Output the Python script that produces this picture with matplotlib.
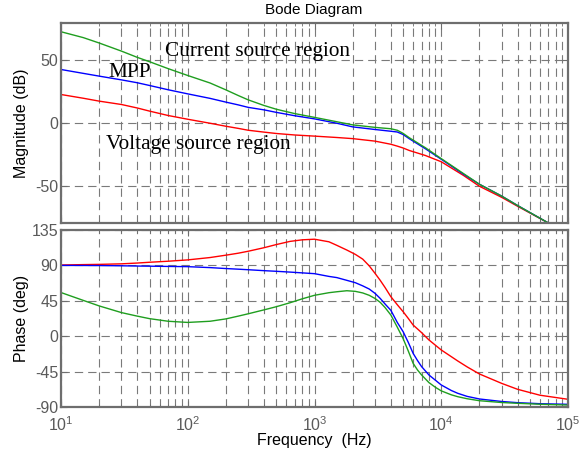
import matplotlib
matplotlib.use("Agg")
import matplotlib.pyplot as plt
from matplotlib.ticker import LogLocator, FixedLocator, NullFormatter

# ---------------- data ----------------
freq_mag = [10, 15, 20, 30, 40, 50, 70, 100, 150, 200, 250, 300, 400, 500, 700, 1000,
            1500, 2000, 3000, 4000, 4500, 5000, 5600, 7500, 10000, 15000, 20000, 30000,
            40000, 70000, 100000]
mag_current = [73, 68.3, 64, 57.5, 52.5, 49, 43.5, 38, 32, 26.5, 22, 18.5, 14, 11, 7.5, 4.5,
               1, -1.5, -3.5, -4.6, -5.8, -8.3, -11.8, -19.8, -28.5, -40.5, -49, -58.5,
               -66, -80, -90]
mag_mpp = [42.8, 39.7, 37.5, 34.5, 32.2, 30, 26.6, 23.3, 19.7, 16.7, 14.5, 12.5, 10.5, 8.5,
           5.8, 3.3, -0.2, -3.1, -5.2, -6.6, -7.2, -9.2, -12.6, -20.6, -29, -41, -49, -58.5,
           -66, -80, -90]
mag_voltage = [22.8, 19.8, 17.5, 14.8, 12, 9.5, 6, 3, -0.2, -2.6, -4.3, -5.8, -7.3, -8.4,
               -9.6, -10.5, -11.6, -12.5, -14.5, -17, -18.5, -20, -22, -26, -31, -42, -50.6,
               -59.5, -66.6, -80, -90]

freq_ph = [10, 15, 20, 30, 40, 50, 70, 100, 150, 200, 250, 300, 400, 500, 640, 800, 1000,
           1300, 1500, 1800, 2100, 2400, 2700, 3000, 3300, 3600, 4000, 4500, 5000, 5500,
           6000, 6500, 7000, 8000, 9000, 10000, 12000, 13500, 16000, 20000, 30000, 40000,
           60000, 100000]
ph_current = [55.5, 45.5, 38.5, 30, 25.5, 22.3, 19, 17.5, 19, 22, 25.5, 28.5, 33.5, 37.5,
              42.5, 47.5, 52, 55.3, 56.5, 57.8, 57, 55, 52, 48, 43, 36.5, 27, 11.5, -3, -19,
              -34.5, -43, -49.3, -59, -65, -69.5, -74.5, -76.9, -79.5, -82, -84.3, -85.3,
              -86.5, -87.5]
ph_mpp = [90, 89.9, 89.8, 89.5, 89.2, 89, 88.7, 88.4, 87.2, 86, 85.2, 84.5, 83.3, 82.5,
          81.5, 80.5, 79.5, 76, 74.5, 71, 68, 64, 60, 54.5, 48, 41, 33, 17.5, 5.8, -8,
          -21.8, -31, -38.7, -49.3, -56, -62, -69, -72.6, -76.5, -79.8, -83, -84.5,
          -85.8, -86.6]
ph_voltage = [90.5, 91, 91.3, 92, 93, 94, 95.3, 97, 100, 103, 105.5, 108, 112.5, 116.5,
              120.5, 122.5, 123.3, 120, 115.5, 109.5, 104, 98, 89.5, 80, 71, 62, 50.3, 40,
              31.2, 22.5, 14.2, 9.2, 4.5, -4.8, -11.5, -17.5, -26, -31.5, -39, -48, -60,
              -67.5, -75, -80.2]

mag_ticks = [-50, 0, 50]
ph_ticks = [-90, -45, 0, 45, 90, 135]
x_ticks = [1e1, 1e2, 1e3, 1e4, 1e5]
x_labels = [r'$10^{1}$', r'$10^{2}$', r'$10^{3}$', r'$10^{4}$', r'$10^{5}$']

# ---------------- style ----------------
plt.rcParams['font.family'] = ['Liberation Sans', 'DejaVu Sans']
plt.rcParams['mathtext.default'] = 'regular'

W, H = 585, 458
fig = plt.figure(figsize=(W / 100, H / 100), dpi=100)

left, right = 61 / W, 568 / W
ax1 = fig.add_axes([left, 1 - 223 / H, right - left, (223 - 23) / H])
ax2 = fig.add_axes([left, 1 - 407 / H, right - left, (407 - 230) / H])

c_green = '#1f9e1f'
c_blue = '#0000ff'
c_red = '#ff0000'
frame_col = '#6e6e6e'
grid_col = '#7a7a7a'
tick_col = '#5a5a5a'

for ax in (ax1, ax2):
    ax.set_xscale('log')
    ax.set_xlim(10, 1e5)
    ax.xaxis.set_major_locator(FixedLocator(x_ticks))
    ax.xaxis.set_minor_locator(LogLocator(base=10, subs=range(2, 10), numticks=20))
    ax.xaxis.set_minor_formatter(NullFormatter())
    ax.grid(True, which='both', axis='x', color=grid_col, linewidth=0.8,
            linestyle=(0, (7.5, 4.5)))
    ax.grid(True, which='major', axis='y', color=grid_col, linewidth=0.8,
            linestyle=(0, (7.5, 4.5)))
    for s in ax.spines.values():
        s.set_color(frame_col)
        s.set_linewidth(1.6)
    ax.tick_params(which='both', direction='in', top=True, right=True,
                   color=frame_col, labelcolor=tick_col, labelsize=11.5)
    ax.tick_params(which='major', length=4)
    ax.tick_params(which='minor', length=2.5)
    ax.tick_params(axis='y', pad=2)
    ax.set_axisbelow(True)

# magnitude
ax1.plot(freq_mag, mag_voltage, color=c_red, lw=1.0)
ax1.plot(freq_mag, mag_mpp, color=c_blue, lw=1.0)
ax1.plot(freq_mag, mag_current, color=c_green, lw=1.0)
ax1.set_ylim(-80, 80)
ax1.set_yticks(mag_ticks)
ax1.set_yticklabels([str(t) for t in mag_ticks])
ax1.tick_params(axis='x', labelbottom=False)

ax1.text(66, 57.4, 'Current source region', family=['Liberation Serif'],
         fontsize=15.3, va='center', ha='left')
ax1.text(23.5, 40.4, 'MPP', family=['Liberation Serif'],
         fontsize=15.3, va='center', ha='left')
ax1.text(22.6, -17, 'Voltage source region', family=['Liberation Serif'],
         fontsize=15.3, va='center', ha='left')

# phase
ax2.plot(freq_ph, ph_voltage, color=c_red, lw=1.0)
ax2.plot(freq_ph, ph_mpp, color=c_blue, lw=1.0)
ax2.plot(freq_ph, ph_current, color=c_green, lw=1.0)
ax2.set_ylim(-90, 135)
ax2.set_yticks(ph_ticks)
ax2.set_yticklabels([str(t) for t in ph_ticks])
ax2.set_xticklabels(x_labels)
ax2.tick_params(axis='x', pad=6)

fig.text(314 / W, 1 - 10 / H, 'Bode Diagram', ha='center', va='center', fontsize=11)
fig.text(22 / W, 1 - 123 / H, 'Magnitude (dB)', rotation=90, ha='center', va='center', fontsize=11.5)
fig.text(22 / W, 1 - 318 / H, 'Phase (deg)', rotation=90, ha='center', va='center', fontsize=11.5)
fig.text(314 / W, 1 - 441 / H, 'Frequency  (Hz)', ha='center', va='center', fontsize=11.5)

fig.savefig('out.png', dpi=100)
